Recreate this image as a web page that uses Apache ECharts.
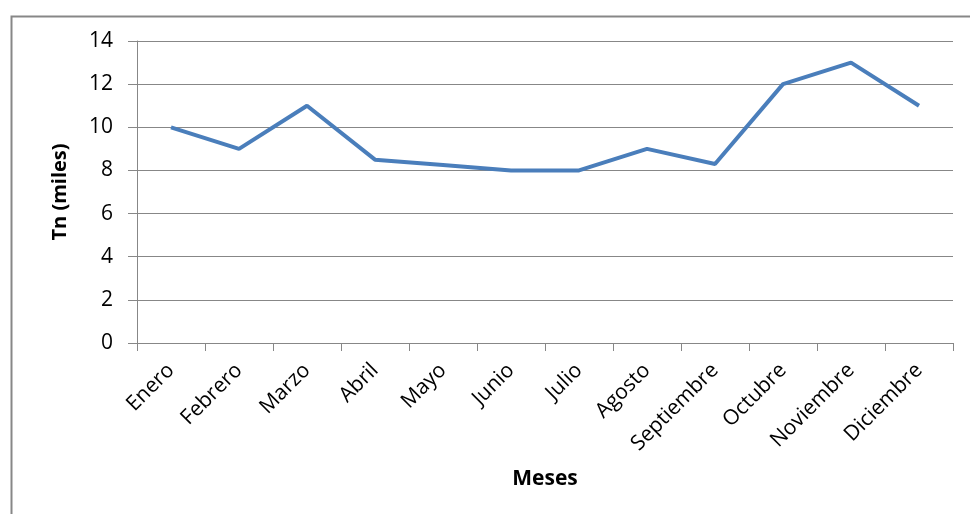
<!DOCTYPE html>
<html>
<head>
<meta charset="utf-8">
<script src="https://cdn.jsdelivr.net/npm/echarts@6/dist/echarts.min.js"></script>
<style>html,body{margin:0;padding:0;background:#fff;}#c{width:970px;height:514px;}</style>
</head>
<body>
<div id="c"></div>
<script>
var categories = ['Enero','Febrero','Marzo','Abril','Mayo','Junio','Julio','Agosto','Septiembre','Octubre','Noviembre','Diciembre'];
var values = [10, 9, 11, 8.5, 8.25, 8, 8, 9, 8.3, 12, 13, 11];
var yTitle = 'Tn (miles)';
var xTitle = 'Meses';

var chart = echarts.init(document.getElementById('c'));
chart.setOption({
  animation: false,
  backgroundColor: '#fff',
  graphic: [{
    type: 'rect', left: 9, top: 14, silent: true,
    shape: {width: 1000, height: 600},
    style: {fill: 'none', stroke: '#878787', lineWidth: 2}
  }],
  grid: {left: 137, right: 17, top: 41, bottom: 171},
  xAxis: {
    type: 'category', data: categories, boundaryGap: true,
    name: xTitle, nameLocation: 'middle', nameGap: 126,
    nameTextStyle: {fontFamily: 'Open Sans', fontWeight: 'bold', fontSize: 21, color: '#000'},
    axisLine: {lineStyle: {color: '#878787', width: 1}},
    axisTick: {show: true, length: 8, alignWithLabel: false, lineStyle: {color: '#878787'}},
    axisLabel: {rotate: 45, fontFamily: 'Open Sans', fontSize: 21, color: '#000', margin: 24, interval: 0}
  },
  yAxis: {
    type: 'value', min: 0, max: 14, interval: 2,
    name: yTitle, nameLocation: 'middle', nameGap: 67,
    nameTextStyle: {fontFamily: 'Open Sans', fontWeight: 'bold', fontSize: 20, color: '#000'},
    axisLine: {show: true, lineStyle: {color: '#878787', width: 1}},
    axisTick: {show: true, length: 9, lineStyle: {color: '#878787'}},
    axisLabel: {fontFamily: 'Open Sans', fontSize: 21, color: '#000', margin: 24},
    splitLine: {lineStyle: {color: '#878787', width: 1}}
  },
  series: [{
    type: 'line', data: values, symbol: 'none',
    lineStyle: {color: '#4a7ebb', width: 4}
  }]
});
</script>
</body>
</html>
